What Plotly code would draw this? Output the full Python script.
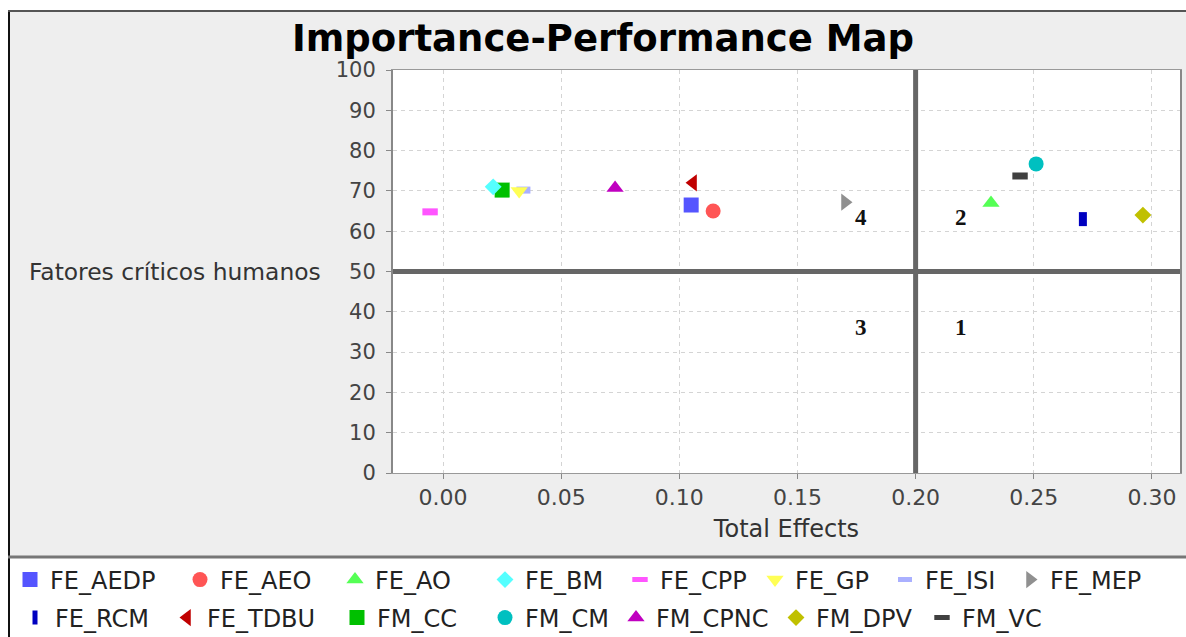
import plotly.graph_objects as go

# ---- data ----
names = ["FE_AEDP", "FE_AEO", "FE_AO", "FE_BM", "FE_CPP", "FE_GP", "FE_ISI", "FE_MEP",
         "FE_RCM", "FE_TDBU", "FM_CC", "FM_CM", "FM_CPNC", "FM_DPV", "FM_VC"]
total_effects = [0.105, 0.1143, 0.2319, 0.0212, -0.0055, 0.0322, 0.0340, 0.1701,
                 0.2708, 0.1058, 0.0250, 0.2510, 0.0728, 0.2962, 0.2442]
performance = [66.5, 65.0, 67.0, 71.0, 64.8, 70.0, 70.2, 67.2,
               63.0, 72.0, 70.2, 76.7, 70.7, 64.0, 73.7]
x_ticks = [0.00, 0.05, 0.10, 0.15, 0.20, 0.25, 0.30]
y_ticks = [0, 10, 20, 30, 40, 50, 60, 70, 80, 90, 100]
quadrant_labels = ["4", "2", "3", "1"]
quadrant_x = [0.177, 0.219, 0.177, 0.219]
quadrant_y = [63.3, 63.3, 36.2, 36.2]

# ---- styles ----
colors = ["#5555FF", "#FF5555", "#55FF55", "#55FFFF", "#FF55FF", "#FFFF55", "#AAB0FF", "#909090",
          "#0000C0", "#C00000", "#00C000", "#00C0C0", "#C000C0", "#C0C000", "#404040"]
symbols = ["square", "circle", "triangle-up", "diamond", "line-ew", "triangle-down", "line-ew",
           "triangle-right", "line-ns", "triangle-left", "square", "circle", "triangle-up",
           "diamond", "line-ew"]
sizes = [15, 15, 15, 13, 11, 15, 10, 15, 10, 15, 15, 15, 15, 13, 11]
# legend entry positions (pixel x of the symbol centre, pixel y of the row)
legend_px_x = [30, 200, 355, 505, 640, 775, 905, 1030,
               35, 187, 357, 505, 636, 796, 942]
legend_px_y = [580] * 8 + [618] * 7

W, H = 1186, 637
L, R, T, B = 393, 6, 70, 164
PW, PH = W - L - R, H - T - B


def px(x):
    return (x - L) / PW


def py(y):
    return (H - B - y) / PH


FONT = "DejaVu Sans"
fig = go.Figure()

legend_layouts = {}
for i in reversed(range(len(names))):
    sym = symbols[i]
    is_line = sym.startswith("line")
    marker = dict(symbol=sym, size=sizes[i], color=colors[i],
                  line=dict(width=(7 if sym == "line-ew" else 8) if is_line else 0,
                            color=colors[i]))
    lg = "legend" if i == 0 else f"legend{i + 1}"
    fig.add_trace(go.Scatter(
        x=[total_effects[i]], y=[performance[i]], mode="markers", name=names[i],
        marker=marker, legend=lg, hoverinfo="name+x+y"))
    legend_layouts[lg] = dict(orientation="h", x=px(legend_px_x[i] - 20), xanchor="left",
                              y=py(legend_px_y[i]), yanchor="middle",
                              bgcolor="rgba(0,0,0,0)",
                              font=dict(family=FONT, size=24, color="#222222"))

shapes = []
# white outer strips and legend area
shapes.append(dict(type="rect", xref="paper", yref="paper", x0=px(0), x1=px(W), y0=py(0), y1=py(11),
                   fillcolor="white", line=dict(width=0), layer="below"))
shapes.append(dict(type="rect", xref="paper", yref="paper", x0=px(0), x1=px(8), y0=py(0), y1=py(H),
                   fillcolor="white", line=dict(width=0), layer="below"))
shapes.append(dict(type="rect", xref="paper", yref="paper", x0=px(8), x1=px(W), y0=py(557), y1=py(H),
                   fillcolor="white", line=dict(width=0), layer="below"))
# borders
shapes.append(dict(type="line", xref="paper", yref="paper", x0=px(9), x1=px(9), y0=py(11), y1=py(H),
                   line=dict(color="#111111", width=2), layer="below"))
shapes.append(dict(type="line", xref="paper", yref="paper", x0=px(8), x1=px(W), y0=py(11), y1=py(11),
                   line=dict(color="#555555", width=2), layer="below"))
shapes.append(dict(type="line", xref="paper", yref="paper", x0=px(8), x1=px(W), y0=py(557), y1=py(557),
                   line=dict(color="#777777", width=3), layer="below"))
# quadrant lines
shapes.append(dict(type="line", xref="x", yref="paper", x0=0.2, x1=0.2, y0=0, y1=1,
                   line=dict(color="#666666", width=5), layer="above"))
shapes.append(dict(type="line", xref="paper", yref="y", x0=0, x1=1, y0=50, y1=50,
                   line=dict(color="#666666", width=5), layer="above"))

annotations = []
for lab, qx, qy in zip(quadrant_labels, quadrant_x, quadrant_y):
    annotations.append(dict(x=qx, y=qy, xref="x", yref="y", text=f"<b>{lab}</b>", showarrow=False,
                            font=dict(family="Liberation Serif", size=23, color="#111111"),
                            xanchor="center", yanchor="middle"))
annotations.append(dict(x=px(323), y=0.5, xref="paper", yref="paper",
                        text="Fatores críticos humanos", showarrow=False,
                        font=dict(family=FONT, size=23.4, color="#333333"),
                        xanchor="right", yanchor="middle"))

fig.update_layout(
    width=W, height=H,
    margin=dict(l=L, r=R, t=T, b=B, autoexpand=False),
    paper_bgcolor="#eeeeee", plot_bgcolor="white",
    title=dict(text="<b>Importance-Performance Map</b>", x=603 / W, xref="container", xanchor="center",
               y=1 - 38 / H, yref="container", yanchor="middle",
               font=dict(family=FONT, size=37, color="#000000")),
    xaxis=dict(range=[-0.0212, 0.3119], tickvals=x_ticks, ticktext=[f"{v:.2f}" for v in x_ticks],
               showgrid=True, gridcolor="#d4d4d4", griddash="4px,4px", gridwidth=1,
               zeroline=False, showline=True, linecolor="#999999", linewidth=1, mirror=True,
               ticks="outside", ticklen=5, tickcolor="#888888",
               tickfont=dict(family=FONT, size=22, color="#444444"),
               title=dict(text="Total Effects", font=dict(family=FONT, size=24, color="#333333"),
                          standoff=10)),
    yaxis=dict(range=[0, 100], tickvals=y_ticks,
               showgrid=True, gridcolor="#d4d4d4", griddash="4px,4px", gridwidth=1,
               zeroline=False, showline=True, linecolor="#888888", linewidth=2, mirror=True,
               ticks="outside", ticklen=5, tickcolor="#888888", ticklabelstandoff=6,
               tickfont=dict(family=FONT, size=21, color="#444444")),
    showlegend=True,
    shapes=shapes, annotations=annotations,
    **legend_layouts,
)

fig.write_html("out.html")
